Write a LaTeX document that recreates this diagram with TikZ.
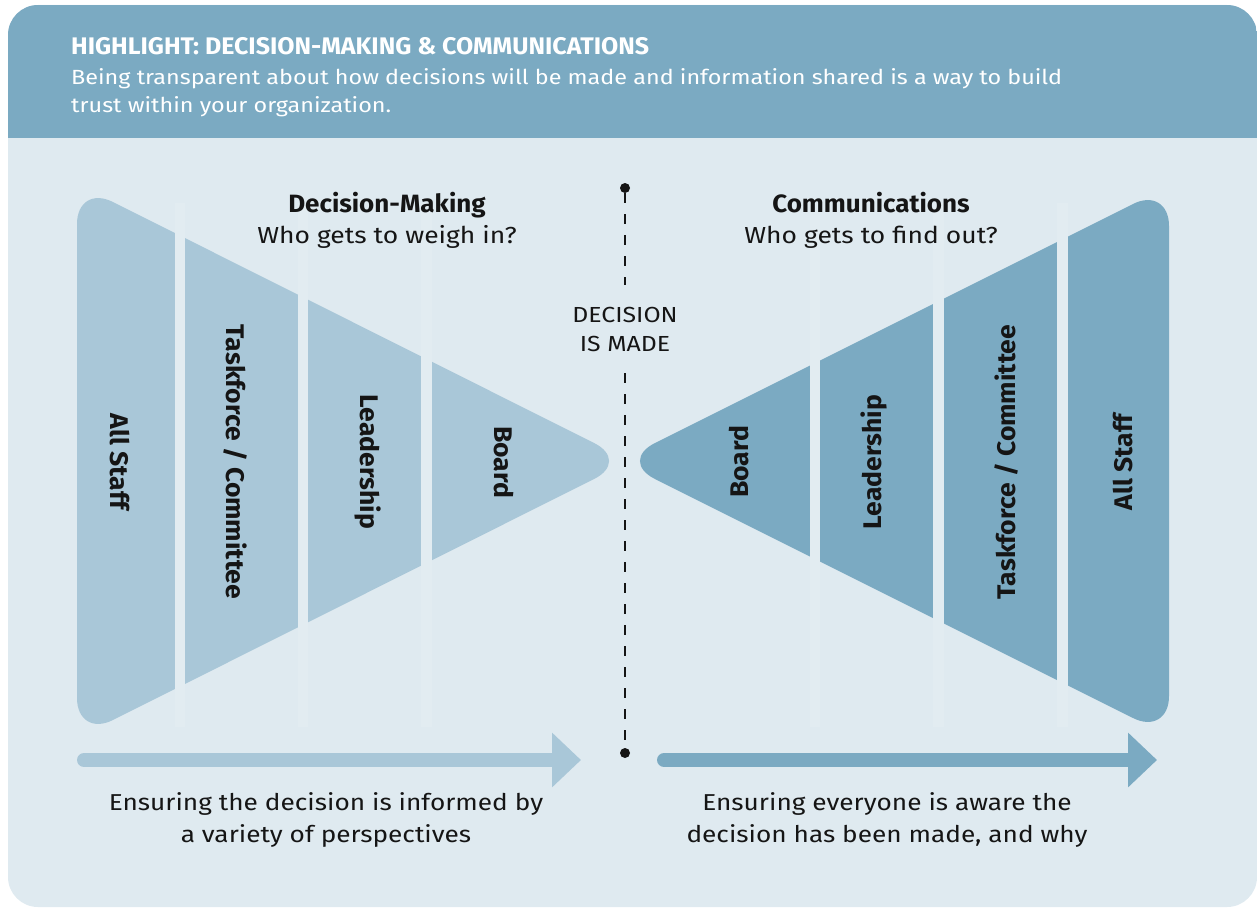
\documentclass[tikz,border=0pt]{standalone}
\usepackage{fontspec}
\setmainfont{Fira Sans}[UprightFeatures={FakeStretch=1.14}, BoldFeatures={FakeStretch=1.04}]
\usetikzlibrary{arrows.meta}
\definecolor{headblue}{HTML}{7BAAC2}
\definecolor{bodyblue}{HTML}{DFEAF0}
\definecolor{lightblue}{HTML}{A9C7D8}
\definecolor{gapblue}{HTML}{E2ECF1}
\definecolor{ink}{HTML}{151515}

\begin{document}
\begin{tikzpicture}[x=1pt,y=-1pt,
  headtxt/.style={anchor=base west, inner sep=0, text=white},
  heading/.style={anchor=base, inner sep=0, text=ink, font=\fontsize{23.2}{28}\selectfont},
  tier/.style={inner sep=0, text=ink, text height=18pt, text depth=0pt,
               font=\fontsize{25.5}{25.5}\selectfont\bfseries},
  caption/.style={align=center, inner sep=0, text=ink, font=\fontsize{23}{32}\selectfont},
  dot/.style={circle, fill=ink, inner sep=0, minimum size=10pt},
  dashline/.style={ink, line width=2.5pt, dash pattern=on 10pt off 11pt},
  flowarrow/.style={line width=14pt, line cap=round, -{Triangle[width=53pt,length=29pt]}},
  rounded frame/.style={rounded corners=30pt}]
\useasboundingbox (0,0) rectangle (1257,907);

% card background and header band
\fill[bodyblue, rounded frame] (8,5) rectangle (1257,907);
\begin{scope}
  \clip[rounded frame] (8,5) rectangle (1257,907);
  \fill[headblue] (8,5) rectangle (1257,138);
\end{scope}

\node[headtxt, font=\fontsize{24}{24}\selectfont\bfseries] (title) at (71,55)
  {HIGHLIGHT: DECISION-MAKING \& COMMUNICATIONS};
\node[headtxt, font=\fontsize{20.5}{20.5}\selectfont] (sub1) at (71,84)
  {Being transparent about how decisions will be made and information shared is a way to build};
\node[headtxt, font=\fontsize{20.5}{20.5}\selectfont] (sub2) at (71,112)
  {trust within your organization.};

% left funnel: decision-making
\fill[lightblue, rounded corners=40pt] (77,461) -- (77,184) -- (630,461) -- (77,738) -- cycle;
% right funnel: communications
\fill[headblue, rounded corners=40pt] (1169,461) -- (1169,186) -- (619,461) -- (1169,736) -- cycle;

% separating strips between tiers
\foreach \a/\b in {175/185, 298/308, 421/432, 810/820, 933/944, 1057/1068}
  \fill[gapblue] (\a,203) rectangle (\b,727);

% tier labels
\node[tier, rotate=-90] (lall)   at (119,462) {All Staff};
\node[tier, rotate=-90] (ltask)  at (235,462) {Taskforce / Committee};
\node[tier, rotate=-90] (llead)  at (369,462) {Leadership};
\node[tier, rotate=-90] (lboard) at (503,462) {Board};
\node[tier, rotate=90]  (rboard) at (739,462) {Board};
\node[tier, rotate=90]  (rlead)  at (872,462) {Leadership};
\node[tier, rotate=90]  (rtask)  at (1006,462) {Taskforce / Committee};
\node[tier, rotate=90]  (rall)   at (1123,462) {All Staff};

% column headings
\node[heading, font=\fontsize{25}{28}\selectfont\bfseries] (dmhead) at (387,212) {Decision-Making};
\node[heading] (dmsub) at (387,243) {Who gets to weigh in?};
\node[heading, font=\fontsize{25}{28}\selectfont\bfseries] (cmhead) at (871,212) {Communications};
\node[heading] (cmsub) at (871,243) {Who gets to find out?};

% decision line
\node[dot] (dtop) at (625,188) {};
\node[dot] (dbot) at (625,753) {};
\node[align=center, inner xsep=0, inner ysep=22pt, text=ink,
      font=\fontsize{21.8}{29}\selectfont] (made) at (625,329) {DECISION\\IS MADE};
\draw[dashline] (dtop) -- (made.north);
\draw[dashline] (made.south) -- (dbot);

% flow arrows
\coordinate (la) at (84,760);
\coordinate (lb) at (581,760);
\coordinate (ra) at (664,760);
\coordinate (rb) at (1157,760);
\draw[flowarrow, lightblue] (la) -- (lb);
\draw[flowarrow, headblue] (ra) -- (rb);

% captions
\node[caption] (lcap) at (326,820) {Ensuring the decision is informed by\\a variety of perspectives};
\node[caption] (rcap) at (887,820) {Ensuring everyone is aware the\\decision has been made, and why};
\end{tikzpicture}
\end{document}
